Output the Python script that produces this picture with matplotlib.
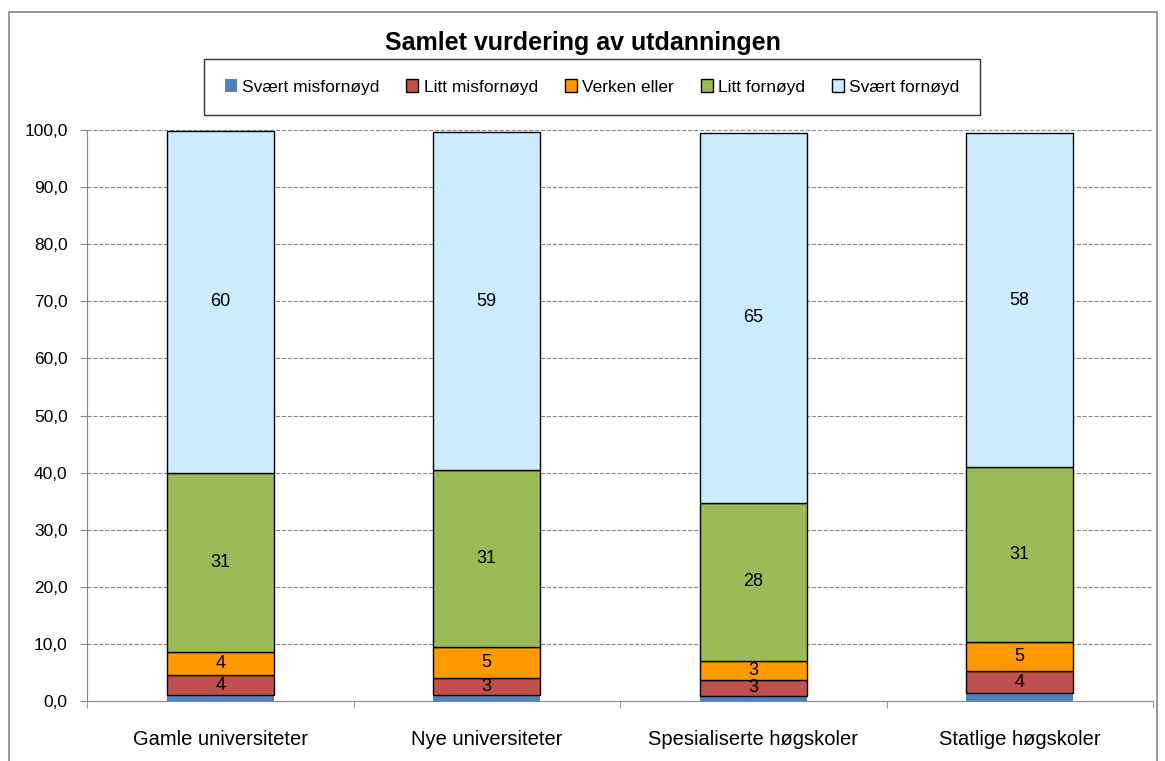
import matplotlib.pyplot as plt
import numpy as np
from matplotlib.patches import Rectangle

plt.rcParams['font.family'] = ['Liberation Sans', 'DejaVu Sans']

categories = ['Gamle universiteter', 'Nye universiteter', 'Spesialiserte høgskoler', 'Statlige høgskoler']
series = ['Svært misfornøyd', 'Litt misfornøyd', 'Verken eller', 'Litt fornøyd', 'Svært fornøyd']
svaert_mis = [1.0, 1.0, 0.9, 1.4]
litt_mis = [3.6, 3.0, 2.8, 3.8]
verken = [4.0, 5.4, 3.35, 5.2]
litt_forn = [31.4, 31.0, 27.7, 30.6]
svaert_forn = [59.9, 59.2, 64.7, 58.4]
colors = ['#4F81BD', '#C0504D', '#FF9900', '#9BBB59', '#CCECFF']

values = [svaert_mis, litt_mis, verken, litt_forn, svaert_forn]
show_label = [False, True, True, True, True]

fig = plt.figure(figsize=(11.65, 7.61), dpi=100)
ax = fig.add_axes([87/1165, 1 - 701/761, (1153 - 87)/1165, (701 - 130)/761])

x = np.arange(len(categories))
bottom = np.zeros(len(categories))
for name, vals, col, lab in zip(series, values, colors, show_label):
    vals = np.array(vals)
    ec = 'black' if lab else col
    ax.bar(x, vals, 0.4, bottom=bottom, color=col, edgecolor=ec,
           linewidth=1.0 if lab else 0, label=name, zorder=3)
    if lab:
        for xi, b, v in zip(x, bottom, vals):
            ax.text(xi, b + v / 2, f'{v:.0f}', ha='center', va='center', fontsize=13, zorder=4)
    bottom += vals

ax.set_xlim(-0.5, 3.5)
ax.set_ylim(0, 100)
ax.set_yticks(np.arange(0, 101, 10))
ax.set_yticklabels([f'{v:.1f}'.replace('.', ',') for v in np.arange(0, 101, 10)], fontsize=12.5)
ax.set_xticks(x)
ax.set_xticklabels(categories, fontsize=14.5)
ax.set_xticks([-0.5, 0.5, 1.5, 2.5, 3.5], minor=True)
ax.tick_params(axis='x', which='major', length=0, pad=21)
ax.tick_params(axis='x', which='minor', length=5, direction='out', color='#868686')
ax.tick_params(axis='y', length=5, color='#868686', pad=9)
ax.grid(axis='y', color='#868686', linestyle='--', linewidth=0.8, zorder=0)
for s in ['top', 'right']:
    ax.spines[s].set_visible(False)
for s in ['left', 'bottom']:
    ax.spines[s].set_color('#868686')

fig.text(0.5, 1 - 43/761, 'Samlet vurdering av utdanningen', ha='center', va='center',
         fontsize=18, fontweight='bold')
leg = fig.legend(loc='center', bbox_to_anchor=(592/1165, 1 - 87/761), ncol=5, fontsize=12.5,
                 frameon=True, fancybox=False, edgecolor='black', handlelength=0.7,
                 handleheight=0.7, columnspacing=1.55, handletextpad=0.3,
                 borderpad=1.2, borderaxespad=0)
leg.get_frame().set_linewidth(1.0)
fig.patches.append(Rectangle((9/1165, -0.05), (1157 - 9)/1165, 1.05 - 12/761, transform=fig.transFigure,
                             fill=False, edgecolor='#868686', linewidth=1.2))

fig.savefig('out.png', dpi=100)
